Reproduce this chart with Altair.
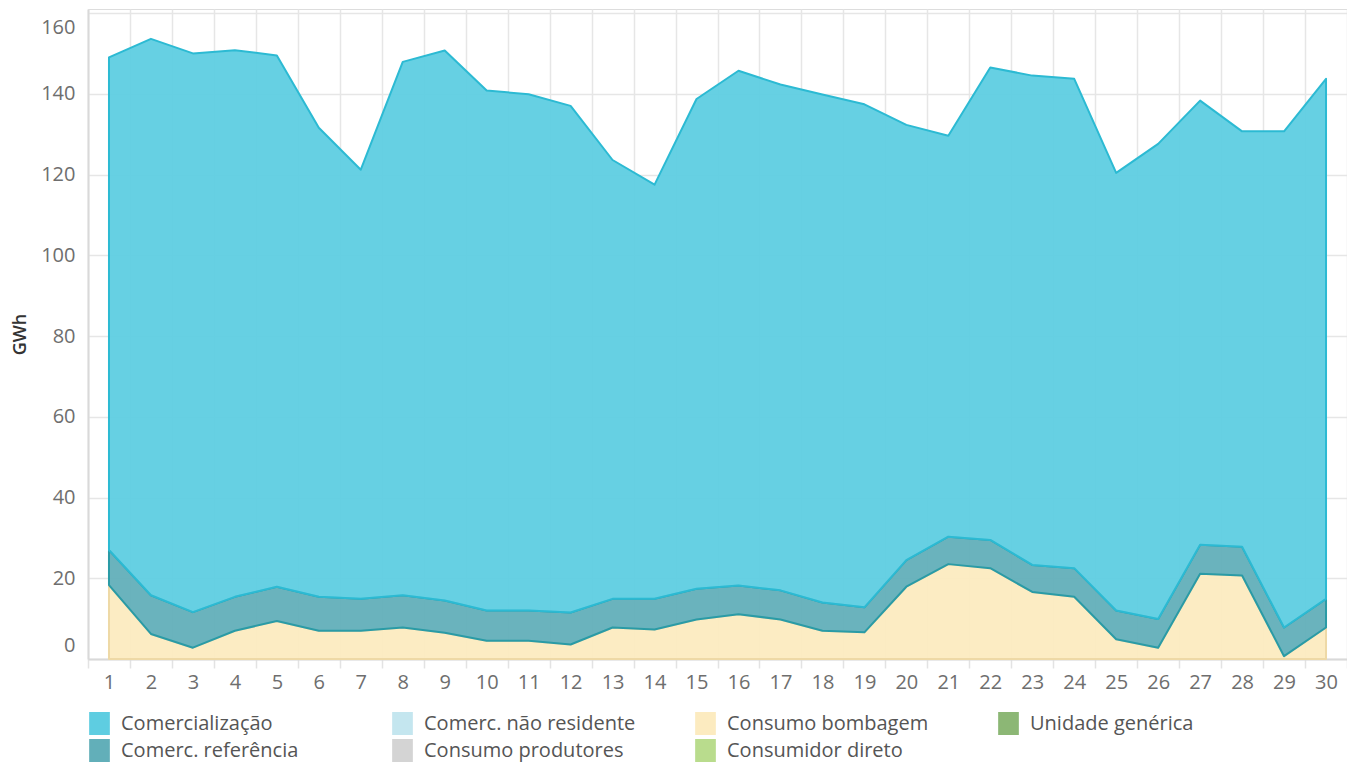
import altair as alt
import pandas as pd

days = list(range(1, 31))

comercializacao = [122.0, 137.8, 138.4, 135.4, 131.6, 116.2, 106.3, 132.1, 136.2, 128.8,
                   127.9, 125.5, 108.7, 102.6, 121.3, 127.5, 125.3, 125.8, 124.6, 107.8,
                   99.3, 117.0, 121.2, 121.2, 108.4, 117.7, 110.0, 102.9, 122.9, 128.8]
comerc_referencia = [8.7, 9.6, 8.8, 8.4, 8.5, 8.4, 7.9, 8.0, 8.0, 7.5,
                     7.5, 7.9, 7.1, 7.6, 7.6, 7.1, 7.2, 7.0, 6.2, 6.6,
                     6.8, 7.0, 6.7, 7.1, 7.1, 7.1, 7.2, 7.1, 7.1, 7.1]
consumo_bombagem = [18.3, 6.2, 2.8, 7.0, 9.4, 7.0, 7.0, 7.8, 6.5, 4.5,
                    4.5, 3.6, 7.8, 7.3, 9.8, 11.1, 9.8, 7.0, 6.6, 17.9,
                    23.5, 22.5, 16.6, 15.4, 4.9, 2.8, 21.1, 20.7, 0.7, 7.8]

legend_order = ["Comercialização", "Comerc. não residente", "Consumo bombagem", "Unidade genérica",
                "Comerc. referência", "Consumo produtores", "Consumidor direto"]
legend_colors = ["#5ECDE1", "#C4E6EF", "#FCEBC0", "#8CB775",
                 "#62AFB9", "#D4D4D4", "#B9DC8D"]

series = [("Consumo bombagem", consumo_bombagem, 0),
          ("Comerc. referência", comerc_referencia, 1),
          ("Comercialização", comercializacao, 2)]

rows = []
for name, vals, o in series:
    for d, v in zip(days, vals):
        rows.append({"dia": d, "tipo": name, "valor": v, "ordem": o})
df = pd.DataFrame(rows)

FONT = "Open Sans"

x_values = [i / 2 for i in range(1, 62)]
y_values = [0, 20, 40, 60, 80, 100, 120, 140, 160]

x_enc = alt.X(
    "dia:Q",
    scale=alt.Scale(domain=[0.5, 30.5], nice=False, zero=False),
    axis=alt.Axis(
        title=None,
        values=x_values,
        labelExpr="datum.value % 1 === 0 ? format(datum.value, 'd') : ''",
        labelOverlap=False,
        labelFontSize=20,
        labelColor="#6E6E6E",
        labelFont=FONT,
        labelPadding=4,
        tickSize=9,
        tickColor="#E3E3E3",
        tickWidth=1.5,
        tickOpacity={"condition": {"test": "datum.value % 1 === 0", "value": 0}, "value": 1},
        gridOpacity={"condition": {"test": "datum.value % 1 === 0", "value": 0}, "value": 1},
        gridColor="#E6E6E6",
        gridWidth=1.5,
        domainColor="#D9D9D9",
        domainWidth=2,
    ),
)

y_enc_axis = alt.Axis(
    title="GWh",
    values=y_values,
    titleFont=FONT,
    titleFontSize=18,
    titleFontWeight=600,
    titleColor="#333333",
    titlePadding=11,
    labelFontSize=20,
    labelColor="#6E6E6E",
    labelFont=FONT,
    labelPadding=13,
    labelFlush=8,
    labelFlushOffset=-4,
    tickSize=0,
    gridColor="#E6E6E6",
    gridWidth=1.5,
    domainColor="#D9D9D9",
    domainWidth=2,
)

color_scale = alt.Scale(domain=legend_order, range=legend_colors)

base = alt.Chart(df).transform_stack(
    stack="valor",
    groupby=["dia"],
    as_=["y0", "y1"],
    sort=[alt.SortField("ordem", order="ascending")],
)

strokes = {"Consumo bombagem": "#EED9A6", "Comerc. referência": "#2A9BA6", "Comercialização": "#2CBAD3"}

layers = []
for name, _, _ in series:
    layer = base.transform_filter(alt.datum.tipo == name).mark_area(
        stroke=strokes[name], strokeWidth=2, fillOpacity=0.95, strokeJoin="round"
    ).encode(
        x=x_enc,
        y=alt.Y("y1:Q", scale=alt.Scale(domain=[0, 161], nice=False), axis=y_enc_axis),
        y2="y0:Q",
        color=alt.Color(
            "tipo:N",
            scale=color_scale,
            legend=alt.Legend(
                title=None,
                orient="none",
                legendX=0,
                legendY=703,
                columns=4,
                direction="horizontal",
                gridAlign="all",
                symbolType="M-0.9,-1H0.9V1H-0.9Z",
                symbolSize=529,
                symbolStrokeWidth=0,
                symbolOpacity=1,
                labelFont=FONT,
                labelFontSize=20,
                labelColor="#555555",
                labelOffset=10,
                labelLimit=400,
                columnPadding=58,
                rowPadding=4,
            ),
        ),
    )
    layers.append(layer)

chart = alt.layer(*layers).properties(
    width=1259,
    height=650,
    autosize=alt.AutoSizeParams(type="none"),
    padding={"left": 80, "top": 1, "right": 0, "bottom": 107},
).configure_view(
    stroke="#D9D9D9", strokeWidth=2
).configure(font=FONT)

chart.save("out.html", embed_options={"renderer": "svg", "actions": False})
